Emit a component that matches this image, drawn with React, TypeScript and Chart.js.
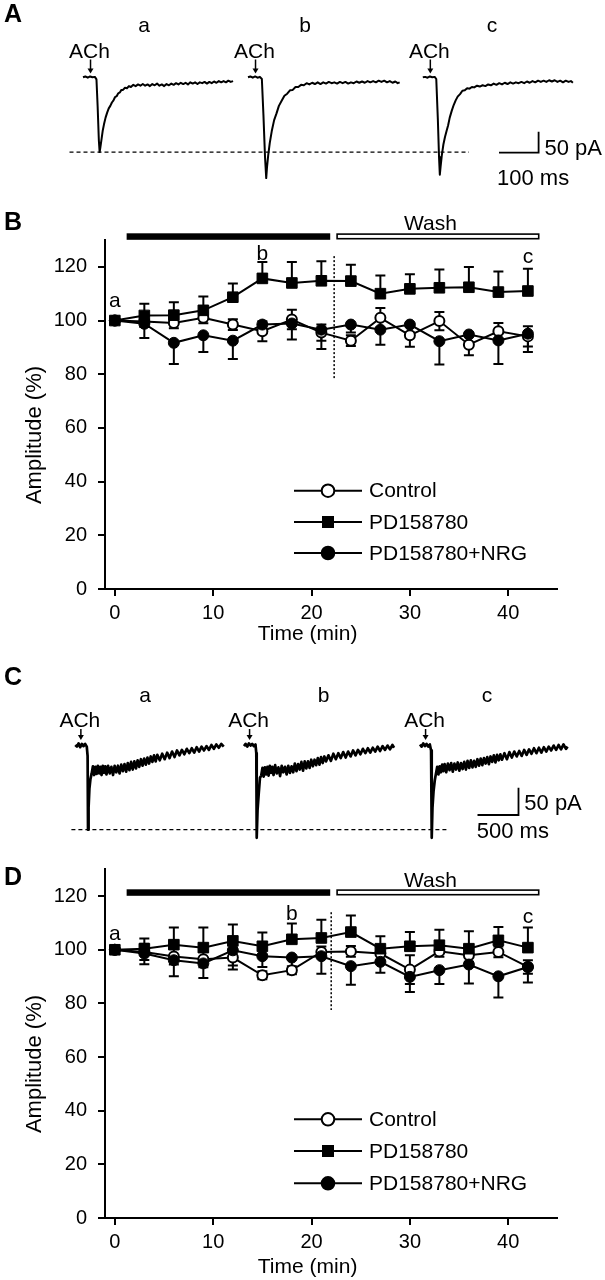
import React, { useEffect, useRef } from 'react';
import { Chart, registerables } from 'chart.js';

Chart.register(...registerables);

const FONT = '"Liberation Sans", Arial, Helvetica, sans-serif';
const W = 605;

// ---------------- Panels B and D: time course ----------------
const timeMin = [0, 3, 6, 9, 12, 15, 18, 21, 24, 27, 30, 33, 36, 39, 42];
const seriesNames = ['Control', 'PD158780', 'PD158780+NRG'];
const xTickValues = [0, 10, 20, 30, 40];
const yTickValues = [0, 20, 40, 60, 80, 100, 120];

const controlB = [100, 99.6, 99.1, 101, 98.5, 96, 100.4, 95.5, 92.5, 101, 94.5, 99.8, 91, 96, 94.1];
const controlBErr = [0, 2, 2, 2, 2, 3.7, 3.6, 3, 2, 3.7, 4.3, 3.4, 3.9, 3.1, 3.8];
const pdB = [100, 101.9, 102, 103.8, 108.7, 115.7, 114, 114.8, 114.7, 110, 111.8, 112.2, 112.4, 110.6, 111];
const pdBErr = [0, 4.4, 4.8, 5.2, 5.1, 6.1, 7.8, 7.3, 6.1, 6.8, 5.4, 6.8, 7.5, 7.7, 8.3];
const nrgB = [100, 98.8, 91.7, 94.5, 92.5, 98.5, 98.9, 96.6, 98.5, 96.6, 98.5, 92.3, 94.8, 92.6, 95.1];
const nrgBErr = [0, 5.3, 7.9, 6.2, 6.8, 3, 6, 7.2, 3, 5.6, 3, 8.7, 3, 8.8, 6.8];

const controlD = [100, 99.2, 97.5, 96.5, 97.1, 90.5, 92.4, 99.2, 99.4, 98.6, 92.6, 99.4, 98, 99.2, 93.6];
const controlDErr = [0, 3, 3, 3, 3, 1.5, 1.5, 2, 2, 2.5, 5.4, 2, 2.5, 2, 2.5];
const pdD = [100, 100.4, 101.9, 100.8, 103.3, 101.3, 103.9, 104.4, 106.6, 100.4, 101.3, 101.7, 100.4, 103.5, 100.8];
const pdDErr = [0, 3.8, 6.4, 7.5, 6.1, 5.1, 5.9, 6.8, 6.2, 4.6, 5.3, 5.8, 6.5, 5, 7.5];
const nrgD = [100, 98.6, 96.1, 94.9, 99.8, 97.6, 97.1, 97.6, 93.9, 95.5, 89.9, 92.4, 94.5, 90.1, 93.6];
const nrgDErr = [0, 4, 6, 5.4, 7.2, 4, 4, 6.5, 6.9, 4.1, 5.6, 5.2, 7.1, 7.9, 5.8];

const drugPeriod = [1.2, 21.9];
const washPeriod = [22.6, 43.1];
const washLineB = 22.3;
const washLineD = 22.0;
const sampleLabels = ['a', 'b', 'c'];
const sampleTimesB = [0, 15, 42];
const sampleTimesD = [0, 18, 42];

// ---------------- Panels A and C: current traces [ms, pA] ----------------
const traceAa: [number, number][] = [[0,0],[6,2],[12,-1],[18,2],[24,0],[30,1],[34,-5],[37,-70],[40,-150],[42,-178],[44,-166],[47,-146],[50,-126],[53,-112],[57,-96],[61,-84],[65,-74],[69,-68],[73,-60],[77,-55],[81,-47],[85,-45],[89,-38],[93,-36],[97,-30],[101,-30],[106,-25],[111,-26],[116,-21],[121,-23],[127,-18],[133,-21],[139,-17],[145,-20],[151,-16],[157,-20],[163,-17],[169,-21],[175,-16],[181,-19],[187,-15],[193,-20],[199,-17],[205,-21],[211,-16],[217,-19],[223,-15],[229,-18],[235,-14],[241,-17],[247,-13],[253,-16],[259,-13],[265,-17],[271,-12],[277,-15],[283,-12],[289,-16],[295,-12],[301,-14],[307,-11],[313,-15],[319,-11],[325,-14],[331,-10],[337,-13],[343,-9],[349,-12],[355,-9],[361,-12],[367,-8],[373,-11],[379,-9]];
const traceAb: [number, number][] = [[0,0],[6,2],[12,-1],[18,2],[24,-1],[30,1],[35,-4],[39,-90],[43,-190],[46,-240],[48,-214],[51,-186],[55,-156],[60,-128],[66,-102],[72,-86],[78,-68],[85,-56],[92,-44],[99,-39],[106,-31],[113,-30],[120,-23],[127,-23],[134,-18],[141,-19],[148,-14],[155,-17],[162,-13],[169,-16],[176,-12],[183,-16],[190,-12],[197,-15],[204,-11],[211,-14],[218,-12],[225,-15],[232,-11],[239,-14],[246,-11],[253,-15],[260,-12],[267,-14],[274,-10],[281,-13],[288,-10],[295,-13],[302,-9],[309,-12],[316,-9],[323,-12],[330,-8],[337,-11],[344,-8],[351,-12],[358,-9],[365,-13],[372,-10],[378,-14],[383,-12]];
const traceAc: [number, number][] = [[0,0],[6,1],[12,-1],[18,2],[24,0],[30,1],[34,-4],[38,-100],[41,-190],[43,-232],[45,-212],[48,-186],[52,-160],[56,-142],[60,-128],[64,-114],[68,-96],[73,-80],[78,-66],[83,-55],[88,-46],[94,-40],[100,-32],[106,-31],[112,-26],[118,-27],[124,-23],[130,-24],[137,-20],[144,-22],[151,-19],[158,-21],[165,-17],[172,-19],[179,-15],[186,-18],[193,-14],[200,-17],[207,-13],[214,-16],[221,-12],[228,-15],[235,-12],[242,-14],[249,-11],[256,-14],[263,-10],[270,-13],[277,-9],[284,-12],[291,-8],[298,-11],[305,-8],[312,-11],[319,-7],[326,-10],[333,-7],[340,-11],[347,-8],[354,-12],[361,-8],[368,-11],[374,-9],[379,-13]];

const traceCa: [number, number][] = [[0,0],[20,-3],[40,3],[60,-4],[80,2],[100,-2],[120,2],[140,-3],[150,-20],[155,-155],[162,-115],[172,-80],[185,-62],[200,-52],[215,-39],[230,-55],[245,-40],[260,-53],[275,-38],[290,-52],[305,-40],[320,-55],[335,-38],[350,-51],[365,-39],[380,-54],[400,-38],[420,-52],[440,-40],[460,-55],[480,-38],[500,-50],[520,-38],[540,-52],[560,-36],[580,-48],[600,-35],[620,-49],[640,-33],[660,-46],[680,-31],[700,-45],[720,-30],[740,-43],[760,-28],[780,-40],[800,-26],[820,-38],[840,-25],[860,-36],[880,-23],[900,-34],[920,-21],[940,-31],[960,-19],[980,-30],[1000,-18],[1030,-28],[1060,-16],[1090,-26],[1120,-14],[1150,-24],[1180,-12],[1210,-22],[1240,-10],[1270,-19],[1300,-9],[1330,-17],[1360,-7],[1390,-15],[1420,-6],[1450,-14],[1480,-4],[1510,-12],[1540,-3],[1570,-10],[1600,-2],[1630,-9],[1660,0],[1690,-7],[1720,1],[1750,-5],[1780,2],[1810,-3]];
const traceCb: [number, number][] = [[0,-2],[20,2],[40,-3],[60,3],[80,-1],[100,2],[120,-2],[140,1],[150,-15],[155,-170],[165,-120],[180,-88],[195,-60],[210,-56],[225,-42],[240,-58],[255,-41],[270,-54],[285,-40],[300,-56],[315,-38],[330,-51],[345,-40],[360,-55],[380,-37],[400,-52],[420,-41],[440,-57],[460,-38],[480,-50],[500,-40],[520,-54],[540,-38],[560,-51],[580,-39],[600,-50],[620,-34],[640,-48],[660,-35],[680,-45],[700,-31],[720,-47],[740,-30],[760,-43],[780,-30],[800,-42],[820,-27],[840,-39],[860,-27],[880,-37],[900,-24],[920,-36],[940,-22],[960,-33],[980,-21],[1000,-30],[1030,-19],[1060,-29],[1090,-16],[1120,-26],[1150,-15],[1180,-24],[1210,-13],[1240,-23],[1270,-12],[1300,-21],[1330,-10],[1360,-19],[1390,-9],[1420,-17],[1450,-7],[1480,-15],[1510,-6],[1540,-14],[1570,-5],[1600,-12],[1630,-3],[1660,-11],[1690,-2],[1720,-9],[1750,-1],[1780,-8],[1810,0],[1830,-5]];
const traceCc: [number, number][] = [[0,1],[20,-3],[40,3],[60,-2],[80,2],[100,-3],[120,1],[135,-10],[143,-170],[152,-115],[165,-85],[180,-65],[195,-52],[210,-40],[225,-54],[240,-39],[255,-50],[270,-36],[285,-48],[300,-35],[320,-50],[340,-34],[360,-46],[380,-33],[400,-49],[420,-34],[440,-45],[460,-32],[480,-47],[500,-33],[520,-44],[540,-31],[560,-45],[580,-29],[600,-42],[620,-28],[640,-41],[660,-29],[680,-40],[700,-26],[720,-38],[740,-25],[760,-37],[780,-24],[800,-34],[820,-22],[840,-35],[860,-21],[880,-31],[900,-19],[920,-32],[940,-18],[960,-28],[980,-17],[1000,-27],[1030,-15],[1060,-26],[1090,-13],[1120,-23],[1150,-12],[1180,-21],[1210,-11],[1240,-20],[1270,-9],[1300,-18],[1330,-8],[1360,-16],[1390,-6],[1420,-15],[1450,-5],[1480,-14],[1510,-4],[1540,-12],[1570,-3],[1600,-10],[1630,-1],[1660,-9],[1690,0],[1720,-8],[1750,1],[1780,-7],[1800,-3]];

// ---------------- trace panels ----------------
type TraceCfg = {
  height: number;
  traces: [number, number][][];
  startPx: number[];
  baselinePx: number;
  msPerPx: number;
  pAPerPx: number;
  lineWidth: number;
  letter: string;
  letterBaseline: number;
  labelXs: number[];
  labelBaseline: number;
  achT: number;
  achBaseline: number;
  arrowTop: number;
  arrowBottom: number;
  dash: [number, number];
  bar: { x: number; y: number; ms: number; pA: number; pALabel: string; msLabel: string; pAx: number; pAy: number; msx: number; msy: number };
};

function makeTraceChart(canvas: HTMLCanvasElement, c: TraceCfg) {
  const offsets = c.startPx.map((s) => (s - c.startPx[0]) * c.msPerPx);
  const xMin = -c.startPx[0] * c.msPerPx;
  const xMax = (W - c.startPx[0]) * c.msPerPx;
  const yMax = c.baselinePx * c.pAPerPx;
  const yMin = -(c.height - c.baselinePx) * c.pAPerPx;
  const peakA = Math.min(...c.traces[0].map((p) => p[1]));
  const decor = {
    id: 'traceDecor',
    afterDraw(chart: any) {
      const { ctx } = chart;
      const x = chart.scales.x;
      const y = chart.scales.y;
      ctx.save();
      ctx.fillStyle = '#000';
      ctx.strokeStyle = '#000';
      // dashed reference line at peak of first trace
      ctx.lineWidth = 1.3;
      ctx.setLineDash([4, 3]);
      const py = y.getPixelForValue(peakA);
      ctx.beginPath();
      ctx.moveTo(c.dash[0], py);
      ctx.lineTo(c.dash[1], py);
      ctx.stroke();
      ctx.setLineDash([]);
      // panel letter
      ctx.font = `bold 25px ${FONT}`;
      ctx.textAlign = 'left';
      ctx.textBaseline = 'alphabetic';
      ctx.fillText(c.letter, 4, c.letterBaseline);
      ctx.font = `21px ${FONT}`;
      ctx.textAlign = 'center';
      sampleLabels.forEach((l, i) => ctx.fillText(l, c.labelXs[i], c.labelBaseline));
      // ACh labels and arrows
      offsets.forEach((o) => {
        const ax = x.getPixelForValue(o + c.achT);
        ctx.font = `21px ${FONT}`;
        ctx.fillText('ACh', ax - 1, c.achBaseline);
        ctx.lineWidth = 1.5;
        ctx.beginPath();
        ctx.moveTo(ax, c.arrowTop);
        ctx.lineTo(ax, c.arrowBottom - 4);
        ctx.stroke();
        ctx.beginPath();
        ctx.moveTo(ax - 3, c.arrowBottom - 5);
        ctx.lineTo(ax + 3, c.arrowBottom - 5);
        ctx.lineTo(ax, c.arrowBottom);
        ctx.closePath();
        ctx.fill();
      });
      // scale bar
      const b = c.bar;
      const hLen = x.getPixelForValue(b.ms) - x.getPixelForValue(0);
      const vLen = y.getPixelForValue(0) - y.getPixelForValue(b.pA);
      ctx.lineWidth = 1.8;
      ctx.beginPath();
      ctx.moveTo(b.x - hLen, b.y);
      ctx.lineTo(b.x, b.y);
      ctx.lineTo(b.x, b.y - vLen);
      ctx.stroke();
      ctx.font = `22px ${FONT}`;
      ctx.textAlign = 'left';
      ctx.fillText(b.pALabel, b.pAx, b.pAy);
      ctx.fillText(b.msLabel, b.msx, b.msy);
      ctx.restore();
    },
  };
  return new Chart(canvas, {
    type: 'line',
    data: {
      datasets: c.traces.map((tr, i) => ({
        data: tr.map(([t, v]) => ({ x: t + offsets[i], y: v })),
        borderColor: '#000',
        borderWidth: c.lineWidth,
        borderJoinStyle: 'round',
        pointRadius: 0,
        tension: 0,
        fill: false,
      })),
    },
    options: {
      responsive: false,
      animation: false,
      devicePixelRatio: 1,
      layout: { padding: 0 },
      plugins: { legend: { display: false }, tooltip: { enabled: false } },
      scales: {
        x: { type: 'linear', display: false, min: xMin, max: xMax },
        y: { type: 'linear', display: false, min: yMin, max: yMax },
      },
    },
    plugins: [decor],
  } as any);
}

// ---------------- time-course panels ----------------
type TimeCfg = {
  height: number;
  padTop: number;
  xAxisH: number;
  control: number[]; controlErr: number[];
  pd: number[]; pdErr: number[];
  nrg: number[]; nrgErr: number[];
  washLine: number;
  washLineRange: [number, number];
  sampleTimes: number[];
  labelBaselines: number[];
  letter: string;
  letterBaseline: number;
  barTop: number;
  washTextBaseline: number;
  legendYs: number[];
  yTitleY: number;
  xTitleBaseline: number;
};

function makeTimeChart(canvas: HTMLCanvasElement, c: TimeCfg) {
  const series = [
    { values: c.control, err: c.controlErr, dir: 'both', style: 'circle', fill: '#fff', r: 5, bw: 2, order: 2 },
    { values: c.pd, err: c.pdErr, dir: 'up', style: 'rect', fill: '#000', r: 7.5, bw: 1, order: 1 },
    { values: c.nrg, err: c.nrgErr, dir: 'down', style: 'circle', fill: '#000', r: 5.5, bw: 1, order: 0 },
  ];
  const decor = {
    id: 'timeDecor',
    beforeDatasetsDraw(chart: any) {
      const { ctx } = chart;
      const x = chart.scales.x;
      const y = chart.scales.y;
      ctx.save();
      ctx.strokeStyle = '#000';
      ctx.lineWidth = 1.5;
      ctx.setLineDash([2, 2]);
      const wx = x.getPixelForValue(c.washLine);
      ctx.beginPath();
      ctx.moveTo(wx, y.getPixelForValue(c.washLineRange[1]));
      ctx.lineTo(wx, y.getPixelForValue(c.washLineRange[0]));
      ctx.stroke();
      ctx.setLineDash([]);
      ctx.lineWidth = 2;
      series.forEach((s) => {
        timeMin.forEach((t, i) => {
          const e = s.err[i];
          if (!e) return;
          const px = x.getPixelForValue(t);
          const py0 = y.getPixelForValue(s.values[i]);
          const ends: number[] = [];
          if (s.dir !== 'down') ends.push(s.values[i] + e);
          if (s.dir !== 'up') ends.push(s.values[i] - e);
          ends.forEach((v) => {
            const py1 = y.getPixelForValue(v);
            ctx.beginPath();
            ctx.moveTo(px, py0);
            ctx.lineTo(px, py1);
            ctx.moveTo(px - 5, py1);
            ctx.lineTo(px + 5, py1);
            ctx.stroke();
          });
        });
      });
      ctx.restore();
    },
    afterDraw(chart: any) {
      const { ctx, chartArea } = chart;
      const x = chart.scales.x;
      ctx.save();
      ctx.fillStyle = '#000';
      ctx.strokeStyle = '#000';
      // x-axis extends a little left of the y axis
      ctx.lineWidth = 2;
      ctx.beginPath();
      ctx.moveTo(chartArea.left - 7, chartArea.bottom);
      ctx.lineTo(chartArea.left, chartArea.bottom);
      ctx.stroke();
      // drug and wash bars
      const d0 = x.getPixelForValue(drugPeriod[0]);
      const d1 = x.getPixelForValue(drugPeriod[1]);
      ctx.fillRect(d0, c.barTop, d1 - d0, 6.5);
      const w0 = x.getPixelForValue(washPeriod[0]);
      const w1 = x.getPixelForValue(washPeriod[1]);
      ctx.lineWidth = 1.6;
      ctx.fillStyle = '#fff';
      ctx.fillRect(w0, c.barTop + 0.8, w1 - w0, 4.6);
      ctx.strokeRect(w0, c.barTop + 0.8, w1 - w0, 4.6);
      ctx.fillStyle = '#000';
      ctx.font = `21px ${FONT}`;
      ctx.textAlign = 'center';
      ctx.textBaseline = 'alphabetic';
      ctx.fillText('Wash', x.getPixelForValue(32.1), c.washTextBaseline);
      // sample labels
      sampleLabels.forEach((l, i) => ctx.fillText(l, x.getPixelForValue(c.sampleTimes[i]), c.labelBaselines[i]));
      // legend
      series.forEach((s, i) => {
        const ly = c.legendYs[i];
        ctx.lineWidth = 2;
        ctx.beginPath();
        ctx.moveTo(294, ly);
        ctx.lineTo(362, ly);
        ctx.stroke();
        ctx.fillStyle = s.fill;
        if (s.style === 'rect') {
          ctx.fillStyle = '#000';
          ctx.fillRect(328 - 6, ly - 6, 12, 12);
        } else {
          ctx.beginPath();
          ctx.arc(328, ly, 6.3, 0, Math.PI * 2);
          ctx.fill();
          ctx.lineWidth = 2;
          ctx.stroke();
        }
        ctx.fillStyle = '#000';
        ctx.font = `21px ${FONT}`;
        ctx.textAlign = 'left';
        ctx.textBaseline = 'middle';
        ctx.fillText(seriesNames[i], 369, ly + 1);
      });
      // axis titles
      ctx.textBaseline = 'alphabetic';
      ctx.textAlign = 'center';
      ctx.font = `21px ${FONT}`;
      ctx.fillText('Time (min)', x.getPixelForValue(19.6), c.xTitleBaseline);
      ctx.save();
      ctx.translate(35, c.yTitleY);
      ctx.rotate(-Math.PI / 2);
      ctx.textBaseline = 'middle';
      ctx.font = `22px ${FONT}`;
      ctx.fillText('Amplitude (%)', 0, 0);
      ctx.restore();
      // panel letter
      ctx.font = `bold 25px ${FONT}`;
      ctx.textAlign = 'left';
      ctx.fillText(c.letter, 4, c.letterBaseline);
      ctx.restore();
    },
  };
  const axisCommon = {
    type: 'linear',
    grid: { display: true, drawOnChartArea: false, drawTicks: true, tickLength: 7, color: '#000', lineWidth: 2 },
    border: { display: true, color: '#000', width: 2 },
  };
  return new Chart(canvas, {
    type: 'line',
    data: {
      datasets: series.map((s, i) => ({
        label: seriesNames[i],
        data: timeMin.map((t, k) => ({ x: t, y: s.values[k] })),
        borderColor: '#000',
        borderWidth: 2,
        pointStyle: s.style,
        pointRadius: s.r,
        pointBackgroundColor: s.fill,
        pointBorderColor: '#000',
        pointBorderWidth: s.bw,
        tension: 0,
        fill: false,
        order: s.order,
      })),
    },
    options: {
      responsive: false,
      animation: false,
      devicePixelRatio: 1,
      layout: { padding: { top: c.padTop, right: W - 557.4, left: 0, bottom: 0 } },
      plugins: { legend: { display: false }, tooltip: { enabled: false } },
      scales: {
        x: {
          ...axisCommon,
          min: -1,
          max: 45,
          afterBuildTicks: (s: any) => { s.ticks = xTickValues.map((v) => ({ value: v })); },
          afterFit: (s: any) => { s.height = c.xAxisH; },
          ticks: { color: '#000', font: { family: FONT, size: 20 }, padding: 5, maxRotation: 0, autoSkip: false },
        },
        y: {
          ...axisCommon,
          min: 0,
          max: 130,
          afterBuildTicks: (s: any) => { s.ticks = yTickValues.map((v) => ({ value: v })); },
          afterFit: (s: any) => { s.width = 105; },
          ticks: { color: '#000', font: { family: FONT, size: 20 }, padding: 11, autoSkip: false },
        },
      },
    },
    plugins: [decor],
  } as any);
}

// ---------------- React ----------------
function ChartCanvas({ top, height, make }: { top: number; height: number; make: (c: HTMLCanvasElement) => Chart }) {
  const ref = useRef<HTMLCanvasElement>(null);
  useEffect(() => {
    const chart = make(ref.current as HTMLCanvasElement);
    return () => chart.destroy();
  }, []);
  return (
    <canvas
      ref={ref}
      width={W}
      height={height}
      style={{ position: 'absolute', left: 0, top, width: W, height, display: 'block' }}
    />
  );
}

export default function App() {
  return (
    <div style={{ position: 'absolute', left: 0, top: 0, width: W, height: 1280, background: '#fff' }}>
      <ChartCanvas
        top={0}
        height={200}
        make={(cv) =>
          makeTraceChart(cv, {
            height: 200,
            traces: [traceAa, traceAb, traceAc],
            startPx: [83, 248, 422.8],
            baselinePx: 77.3,
            msPerPx: 100 / 39.6,
            pAPerPx: 50 / 21,
            lineWidth: 2,
            letter: 'A',
            letterBaseline: 21.7,
            labelXs: [144, 305, 492],
            labelBaseline: 31.7,
            achT: 19,
            achBaseline: 58.3,
            arrowTop: 59.5,
            arrowBottom: 73.5,
            dash: [69.5, 469],
            bar: { x: 538.6, y: 152.7, ms: 100, pA: 50, pALabel: '50 pA', msLabel: '100 ms', pAx: 544.4, pAy: 155, msx: 497, msy: 185 },
          })
        }
      />
      <ChartCanvas
        top={200}
        height={450}
        make={(cv) =>
          makeTimeChart(cv, {
            height: 450,
            padTop: 40,
            xAxisH: 61,
            control: controlB, controlErr: controlBErr,
            pd: pdB, pdErr: pdBErr,
            nrg: nrgB, nrgErr: nrgBErr,
            washLine: washLineB,
            washLineRange: [78, 124],
            sampleTimes: sampleTimesB,
            labelBaselines: [106.7, 60, 63.3],
            letter: 'B',
            letterBaseline: 30,
            barTop: 33.3,
            washTextBaseline: 30,
            legendYs: [290.7, 322, 353],
            yTitleY: 235,
            xTitleBaseline: 440,
          })
        }
      />
      <ChartCanvas
        top={650}
        height={190}
        make={(cv) =>
          makeTraceChart(cv, {
            height: 190,
            traces: [traceCa, traceCb, traceCc],
            startPx: [75.3, 244, 420],
            baselinePx: 95,
            msPerPx: 500 / 41,
            pAPerPx: 50 / 27.3,
            lineWidth: 2.7,
            letter: 'C',
            letterBaseline: 35,
            labelXs: [145, 323.6, 487],
            labelBaseline: 51.7,
            achT: 68,
            achBaseline: 76.7,
            arrowTop: 79,
            arrowBottom: 90,
            dash: [71.4, 448],
            bar: { x: 518.5, y: 165, ms: 500, pA: 50, pALabel: '50 pA', msLabel: '500 ms', pAx: 524.3, pAy: 160, msx: 476.8, msy: 188.3 },
          })
        }
      />
      <ChartCanvas
        top={840}
        height={440}
        make={(cv) =>
          makeTimeChart(cv, {
            height: 440,
            padTop: 29.3,
            xAxisH: 62,
            control: controlD, controlErr: controlDErr,
            pd: pdD, pdErr: pdDErr,
            nrg: nrgD, nrgErr: nrgDErr,
            washLine: washLineD,
            washLineRange: [77.5, 114],
            sampleTimes: sampleTimesD,
            labelBaselines: [100, 80, 82.7],
            letter: 'D',
            letterBaseline: 45,
            barTop: 49.3,
            washTextBaseline: 46.7,
            legendYs: [279.3, 311, 343.3],
            yTitleY: 224,
            xTitleBaseline: 433.3,
          })
        }
      />
    </div>
  );
}
